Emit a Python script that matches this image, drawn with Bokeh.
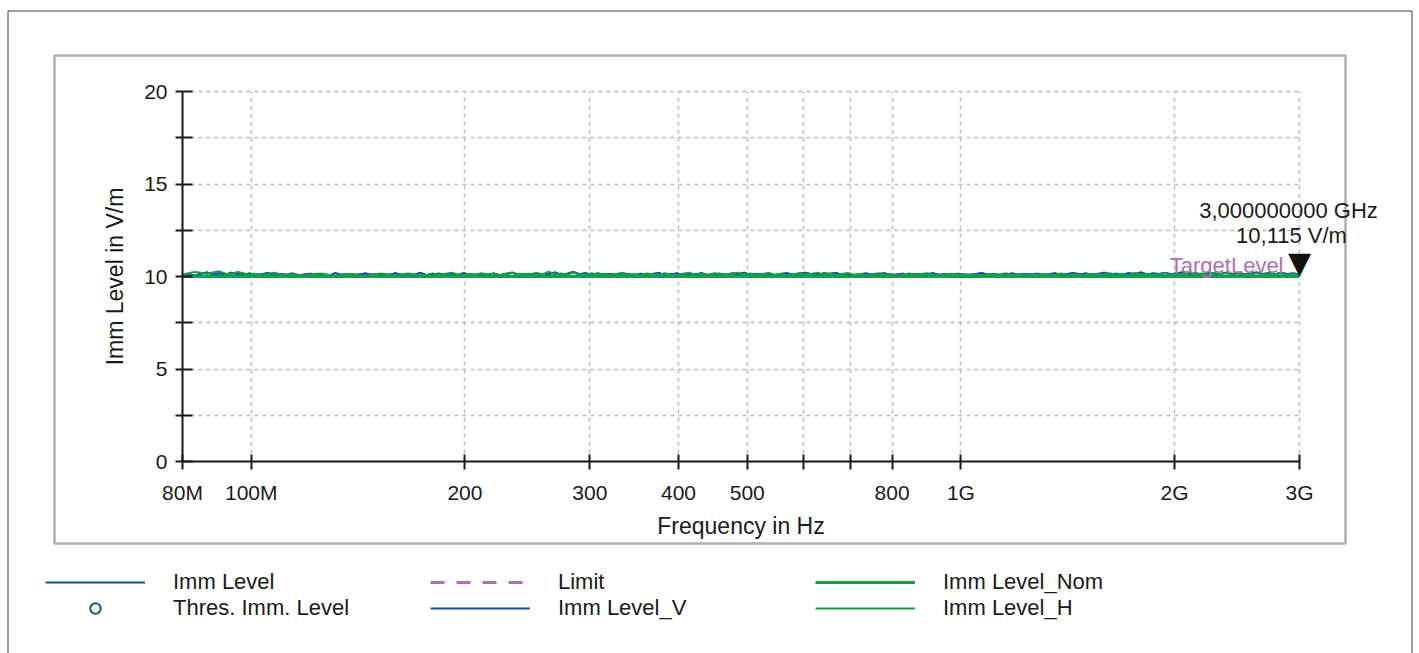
import math
from bokeh.plotting import figure
from bokeh.models import (ColumnDataSource, FixedTicker, Legend, LegendItem, Label,
                          BoxAnnotation, Range1d)
from bokeh.embed import file_html
from bokeh.resources import INLINE

# ---------------- data ----------------
freq_mhz = [
    80.0, 81.6, 83.2, 84.9, 86.6, 88.3, 90.1, 91.9, 93.7, 95.6,
    97.5, 99.5, 101.5, 103.5, 105.6, 107.7, 109.8, 112.0, 114.3, 116.5,
    118.9, 121.3, 123.7, 126.2, 128.7, 131.3, 133.9, 136.6, 139.3, 142.1,
    144.9, 147.8, 150.8, 153.8, 156.9, 160.0, 163.2, 166.5, 169.8, 173.2,
    176.7, 180.2, 183.8, 187.5, 191.3, 195.1, 199.0, 203.0, 207.1, 211.2,
    215.4, 219.7, 224.1, 228.6, 233.2, 237.8, 242.6, 247.4, 252.4, 257.5,
    262.6, 267.8, 273.2, 278.7, 284.2, 289.9, 295.7, 301.6, 307.7, 313.8,
    320.1, 326.5, 333.0, 339.7, 346.5, 353.4, 360.5, 367.7, 375.0, 382.5,
    390.2, 398.0, 406.0, 414.1, 422.3, 430.8, 439.4, 448.2, 457.2, 466.3,
    475.6, 485.2, 494.9, 504.8, 514.9, 525.2, 535.6, 546.4, 557.3, 568.4,
    579.8, 591.4, 603.2, 615.3, 627.6, 640.1, 652.9, 666.0, 679.3, 692.9,
    706.8, 720.9, 735.3, 750.0, 765.0, 780.3, 795.9, 811.8, 828.1, 844.6,
    861.5, 878.8, 896.3, 914.2, 932.5, 951.2, 970.2, 989.6, 1009.4, 1029.6,
    1050.2, 1071.2, 1092.6, 1114.5, 1136.8, 1159.5, 1182.7, 1206.3, 1230.5, 1255.1,
    1280.2, 1305.8, 1331.9, 1358.5, 1385.7, 1413.4, 1441.7, 1470.5, 1499.9, 1529.9,
    1560.5, 1591.7, 1623.6, 1656.0, 1689.2, 1722.9, 1757.4, 1792.5, 1828.4, 1865.0,
    1902.3, 1940.3, 1979.1, 2018.7, 2059.1, 2100.3, 2142.3, 2185.1, 2228.8, 2273.4,
    2318.9, 2365.2, 2412.5, 2460.8, 2510.0, 2560.2, 2611.4, 2663.6, 2716.9, 2771.3,
    2826.7, 2883.2, 2940.9, 3000.0,
]

imm_level_v = [
    10.06, 10.12, 10.04, 10.15, 10.22, 10.10, 10.18, 10.08, 10.20, 10.14,
    10.09, 10.16, 10.05, 10.12, 10.19, 10.07, 10.13, 10.10, 10.17, 10.06,
    10.11, 10.15, 10.08, 10.13, 10.05, 10.18, 10.10, 10.14, 10.07, 10.12,
    10.16, 10.09, 10.13, 10.06, 10.11, 10.17, 10.08, 10.14, 10.10, 10.19,
    10.07, 10.12, 10.15, 10.09, 10.13, 10.06, 10.18, 10.11, 10.08, 10.14,
    10.10, 10.16, 10.07, 10.12, 10.20, 10.09, 10.14, 10.11, 10.17, 10.08,
    10.13, 10.22, 10.10, 10.15, 10.24, 10.12, 10.18, 10.09, 10.16, 10.11,
    10.14, 10.08, 10.17, 10.12, 10.06, 10.15, 10.10, 10.13, 10.19, 10.07,
    10.12, 10.16, 10.09, 10.14, 10.11, 10.18, 10.08, 10.13, 10.15, 10.10,
    10.17, 10.12, 10.20, 10.09, 10.14, 10.11, 10.16, 10.07, 10.13, 10.18,
    10.10, 10.15, 10.21, 10.12, 10.08, 10.17, 10.13, 10.19, 10.10, 10.14,
    10.06, 10.12, 10.16, 10.09, 10.13, 10.18, 10.07, 10.11, 10.15, 10.10,
    10.14, 10.08, 10.12, 10.17, 10.10, 10.13, 10.06, 10.15, 10.11, 10.09,
    10.13, 10.18, 10.10, 10.14, 10.07, 10.12, 10.16, 10.09, 10.13, 10.11,
    10.15, 10.08, 10.12, 10.17, 10.10, 10.14, 10.19, 10.11, 10.16, 10.09,
    10.13, 10.20, 10.12, 10.15, 10.10, 10.18, 10.13, 10.22, 10.11, 10.16,
    10.14, 10.19, 10.12, 10.17, 10.23, 10.13, 10.18, 10.11, 10.20, 10.15,
    10.12, 10.21, 10.14, 10.18, 10.10, 10.16, 10.22, 10.13, 10.17, 10.12,
    10.19, 10.14, 10.16, 10.115,
]

imm_level_h = [
    10.10, 10.18, 10.25, 10.20, 10.14, 10.22, 10.28, 10.16, 10.12, 10.24,
    10.18, 10.10, 10.15, 10.08, 10.13, 10.21, 10.12, 10.06, 10.14, 10.09,
    10.04, 10.12, 10.15, 10.15, 10.08, 10.03, 10.10, 10.14, 10.14, 10.06,
    10.02, 10.09, 10.15, 10.15, 10.10, 10.04, 10.12, 10.16, 10.11, 10.05,
    10.10, 10.17, 10.09, 10.14, 10.20, 10.12, 10.07, 10.15, 10.11, 10.18,
    10.09, 10.14, 10.08, 10.16, 10.22, 10.11, 10.15, 10.07, 10.19, 10.12,
    10.26, 10.10, 10.16, 10.08, 10.21, 10.13, 10.09, 10.17, 10.11, 10.15,
    10.07, 10.14, 10.19, 10.10, 10.13, 10.06, 10.16, 10.12, 10.09, 10.18,
    10.11, 10.07, 10.15, 10.20, 10.10, 10.13, 10.08, 10.17, 10.12, 10.09,
    10.14, 10.21, 10.11, 10.16, 10.08, 10.13, 10.19, 10.10, 10.15, 10.07,
    10.12, 10.18, 10.09, 10.14, 10.20, 10.11, 10.16, 10.08, 10.13, 10.19,
    10.10, 10.15, 10.07, 10.12, 10.17, 10.09, 10.14, 10.06, 10.11, 10.16,
    10.08, 10.13, 10.18, 10.10, 10.05, 10.12, 10.15, 10.09, 10.13, 10.07,
    10.11, 10.06, 10.14, 10.09, 10.12, 10.17, 10.08, 10.11, 10.05, 10.13,
    10.09, 10.14, 10.07, 10.11, 10.16, 10.08, 10.12, 10.06, 10.10, 10.15,
    10.08, 10.12, 10.17, 10.10, 10.14, 10.07, 10.19, 10.11, 10.15, 10.09,
    10.13, 10.18, 10.10, 10.15, 10.08, 10.20, 10.12, 10.16, 10.10, 10.21,
    10.13, 10.17, 10.09, 10.19, 10.14, 10.11, 10.18, 10.08, 10.15, 10.12,
    10.17, 10.10, 10.14, 10.08,
]

imm_level = imm_level_v          # overall level trace (blue)
nom_freq_mhz = [80.0, 3000.0]
imm_level_nom = [10.0, 10.0]
limit_freq_mhz = [80.0, 3000.0]
limit_level = [10.0, 10.0]
thres_freq_mhz = [3000.0]         # no threshold points were found (NaN level)
thres_level = [float("nan")]

marker_freq_hz = 3.0e9
marker_level = 10.115
marker_text_1 = "3,000000000 GHz"
marker_text_2 = "10,115 V/m"

x_ticks_hz = [80e6, 100e6, 200e6, 300e6, 400e6, 500e6, 600e6, 700e6, 800e6, 1e9, 2e9, 3e9]
x_tick_labels = ["80M", "100M", "200", "300", "400", "500", "", "", "800", "1G", "2G", "3G"]
x_min_hz, x_max_hz = 80e6, 3e9
y_min, y_max = 0, 20
y_ticks = [0, 5, 10, 15, 20]
y_minor_ticks = [2.5, 7.5, 12.5, 17.5]

# ---------------- layout / style ----------------
W, H = 1419, 653
AREA_L, AREA_R, AREA_T, AREA_B = 182, 1299, 91, 461   # pixel box of the data area

FONT = "Liberation Sans"
BLUE = "#1f4fa0"
GREEN = "#13a04a"
PINK = "#b26fb0"
TXT = "#1a1a1a"
GRID = "#bdbdbd"

# ranges chosen so the data area sits inside a full-canvas frame
k = (AREA_R - AREA_L) / math.log10(x_max_hz / x_min_hz)
x_start = x_min_hz / 10 ** (AREA_L / k)
x_end = x_max_hz * 10 ** ((W - AREA_R) / k)
u = (AREA_B - AREA_T) / (y_max - y_min)
y_start = y_min - (H - AREA_B) / u
y_end = y_max + AREA_T / u

def hz(lst):
    return [v * 1e6 for v in lst]

n = min(len(freq_mhz), len(imm_level_v), len(imm_level_h))
src_v = ColumnDataSource(dict(x=hz(freq_mhz[:n]), y=imm_level_v[:n]))
src_l = ColumnDataSource(dict(x=hz(freq_mhz[:n]), y=imm_level[:n]))
src_h = ColumnDataSource(dict(x=hz(freq_mhz[:n]), y=imm_level_h[:n]))
src_nom = ColumnDataSource(dict(x=hz(nom_freq_mhz), y=imm_level_nom))
src_lim = ColumnDataSource(dict(x=hz(limit_freq_mhz), y=limit_level))
src_thr = ColumnDataSource(dict(x=hz(thres_freq_mhz), y=thres_level))

p = figure(width=W, height=H, x_axis_type="log",
           x_range=Range1d(x_start, x_end), y_range=Range1d(y_start, y_end),
           output_backend="svg", toolbar_location=None,
           min_border=0, min_border_left=0, min_border_right=0,
           min_border_top=0, min_border_bottom=0)
p.outline_line_color = None
p.background_fill_color = "white"
p.border_fill_color = "white"

# axes (drawn at fixed data locations inside the frame)
xa = p.xaxis[0]
xa.ticker = FixedTicker(ticks=x_ticks_hz, minor_ticks=[])
xa.major_label_overrides = {t: l for t, l in zip(x_ticks_hz, x_tick_labels)}
xa.axis_label = "Frequency in Hz"
xa.fixed_location = y_min
xa.bounds = (x_min_hz, x_max_hz)
ya = p.yaxis[0]
ya.ticker = FixedTicker(ticks=y_ticks, minor_ticks=y_minor_ticks)
ya.axis_label = "Imm Level in V/m"
ya.fixed_location = x_min_hz
ya.bounds = (y_min, y_max)

for ax in (xa, ya):
    ax.axis_line_color = TXT
    ax.axis_line_width = 2
    ax.major_tick_line_color = TXT
    ax.major_tick_line_width = 2
    ax.minor_tick_line_color = TXT
    ax.minor_tick_line_width = 2
    ax.major_label_text_font = FONT
    ax.major_label_text_font_size = "21px"
    ax.major_label_text_color = TXT
    ax.axis_label_text_font = FONT
    ax.axis_label_text_font_size = "23px"
    ax.axis_label_text_font_style = "normal"
    ax.axis_label_text_color = TXT

xa.major_tick_in = 7
xa.major_tick_out = 8
xa.major_label_standoff = 11
xa.axis_label_standoff = 6
ya.major_tick_in = 10
ya.major_tick_out = 7
ya.minor_tick_in = 10
ya.minor_tick_out = 7
ya.major_label_standoff = 8
ya.axis_label_standoff = 13

xg, yg = p.xgrid[0], p.ygrid[0]
xg.cross_bounds = (y_min, y_max)
yg.cross_bounds = (x_min_hz, x_max_hz)
for g in (xg, yg):
    g.grid_line_color = GRID
    g.grid_line_dash = "4 4"
    g.grid_line_width = 1.5
yg.minor_grid_line_color = GRID
yg.minor_grid_line_dash = "4 4"
yg.minor_grid_line_width = 1.5

# series
r_lim = p.line("x", "y", source=src_lim, line_color=PINK, line_width=3, line_dash="14 12")
r_lvl = p.line("x", "y", source=src_l, line_color=BLUE, line_width=2)
r_v = p.line("x", "y", source=src_v, line_color=BLUE, line_width=2)
r_h = p.line("x", "y", source=src_h, line_color=GREEN, line_width=2)
r_nom = p.line("x", "y", source=src_nom, line_color=GREEN, line_width=3)
r_thr = p.scatter("x", "y", source=src_thr, marker="circle", size=14,
                  fill_color=None, line_color=BLUE, line_width=2)

# marker and labels
p.add_layout(Label(x=marker_freq_hz, y=marker_level, text="▼", text_align="center",
                   text_baseline="alphabetic", text_font="DejaVu Sans",
                   text_font_size="30px", text_color="#111111", y_offset=12))
p.add_layout(Label(x=marker_freq_hz, y=marker_level, text=marker_text_1, text_align="center",
                   text_baseline="alphabetic", text_font=FONT, text_font_size="22px",
                   text_color=TXT, x_offset=-11, y_offset=64))
p.add_layout(Label(x=marker_freq_hz, y=marker_level, text=marker_text_2, text_align="center",
                   text_baseline="alphabetic", text_font=FONT, text_font_size="22px",
                   text_color=TXT, x_offset=-8, y_offset=39))
p.add_layout(Label(x=marker_freq_hz, y=limit_level[-1], text="TargetLevel", text_align="right",
                   text_baseline="alphabetic", text_font=FONT, text_font_size="22px",
                   text_color=PINK, x_offset=-16, y_offset=11))

# frames (panel and outer border), canvas units
p.add_layout(BoxAnnotation(left=54, right=1345, top=55, bottom=543,
                           left_units="canvas", right_units="canvas",
                           top_units="canvas", bottom_units="canvas",
                           fill_color=None, line_color="#b0b0b0", line_alpha=1.0,
                           line_width=2.5, level="underlay"))
p.add_layout(BoxAnnotation(left=7.5, right=1411.5, top=10.5, bottom=720,
                           left_units="canvas", right_units="canvas",
                           top_units="canvas", bottom_units="canvas",
                           fill_color=None, line_color="#3a3a3a", line_alpha=1.0,
                           line_width=1, level="underlay"))

legend = Legend(items=[
    LegendItem(label="Imm Level", renderers=[r_lvl]),
    LegendItem(label="Thres. Imm. Level", renderers=[r_thr]),
    LegendItem(label="Limit", renderers=[r_lim]),
    LegendItem(label="Imm Level_V", renderers=[r_v]),
    LegendItem(label="Imm Level_Nom", renderers=[r_nom]),
    LegendItem(label="Imm Level_H", renderers=[r_h]),
], location=(45, H - 621), orientation="vertical", nrows=2,
    glyph_width=100, glyph_height=26, label_standoff=28, label_width=257,
    label_height=26, spacing=0, padding=0, margin=0,
    label_text_font=FONT, label_text_font_size="22px", label_text_color=TXT,
    border_line_color=None, background_fill_alpha=0)
p.add_layout(legend, "center")

open("out.html", "w").write(file_html(p, INLINE))
